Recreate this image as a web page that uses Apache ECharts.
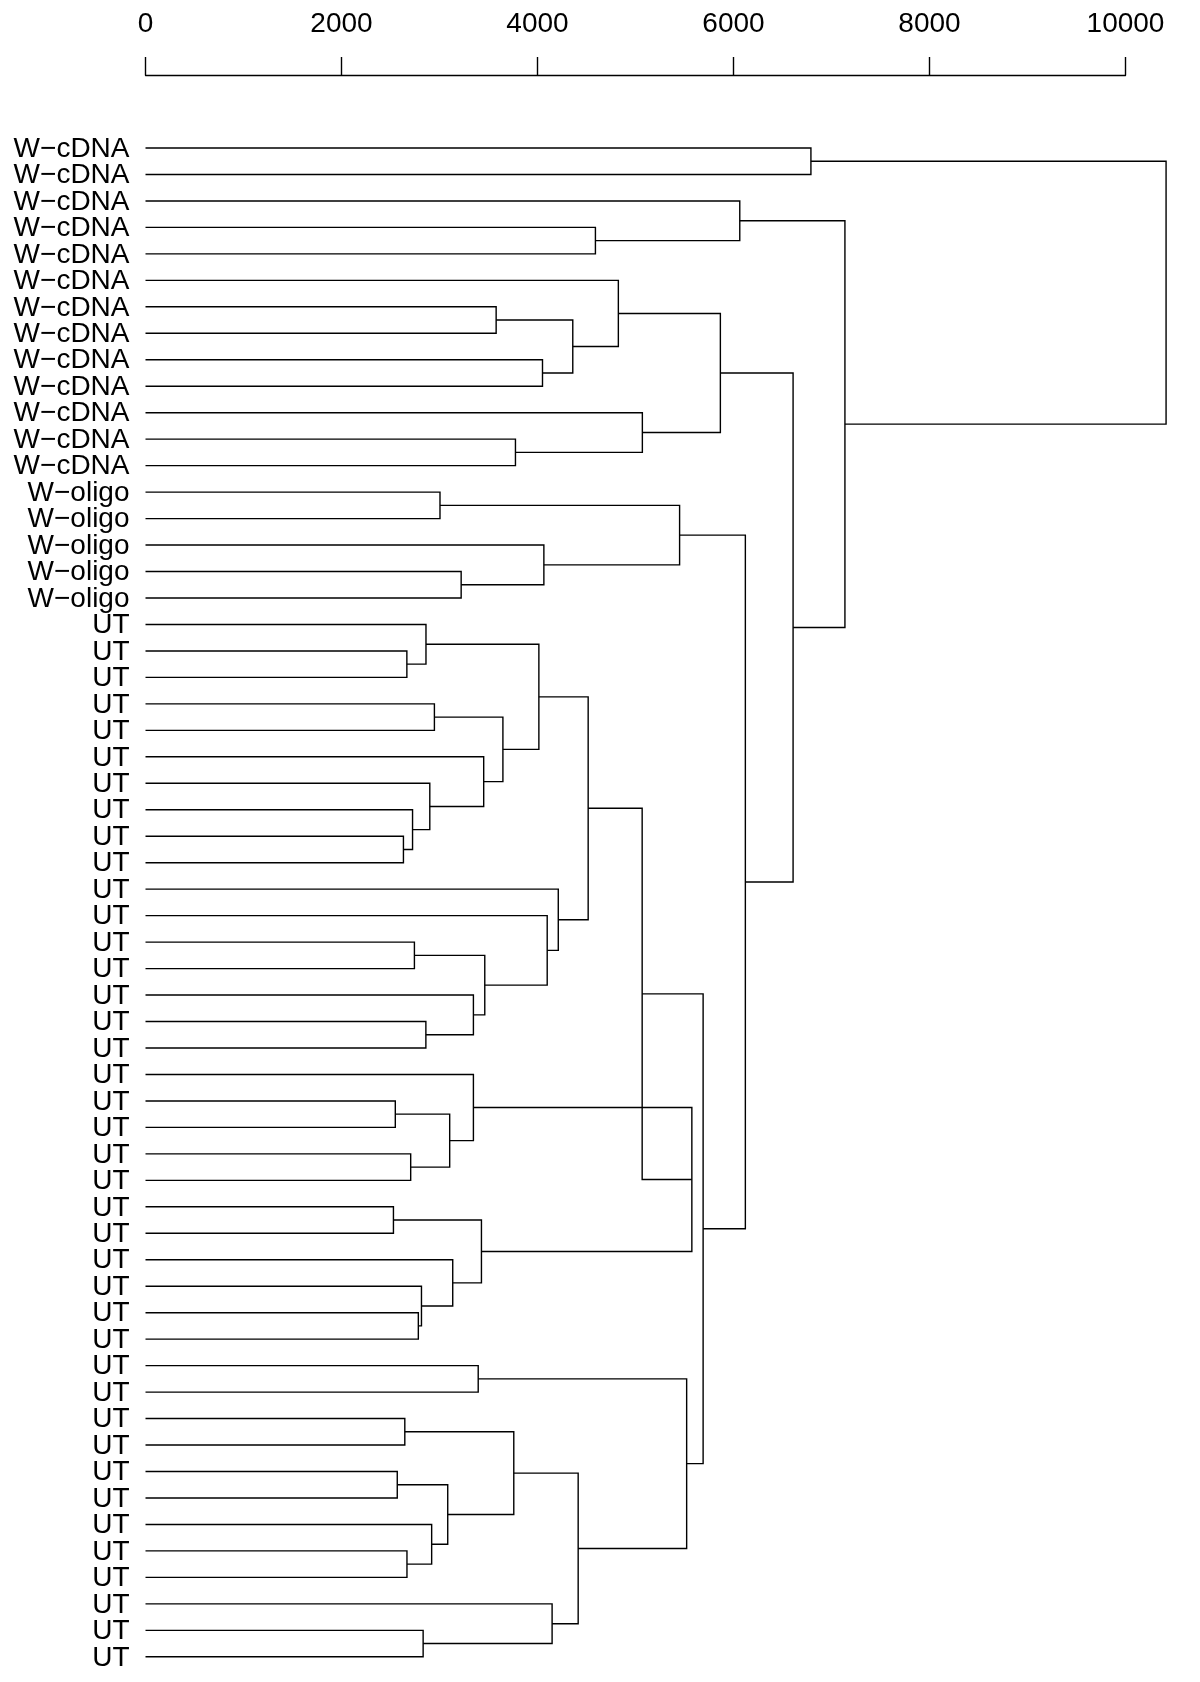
<!DOCTYPE html>
<html><head><meta charset="utf-8">
<script src="https://cdn.jsdelivr.net/npm/echarts@6/dist/echarts.min.js"></script>
<style>html,body{margin:0;padding:0;background:#fff}#c{width:1200px;height:1682px}</style>
</head><body><div id="c"></div>
<script>
// Leaf labels, top to bottom
var leafLabels = [
  "W\u2212cDNA","W\u2212cDNA","W\u2212cDNA","W\u2212cDNA","W\u2212cDNA","W\u2212cDNA","W\u2212cDNA",
  "W\u2212cDNA","W\u2212cDNA","W\u2212cDNA","W\u2212cDNA","W\u2212cDNA","W\u2212cDNA",
  "W\u2212oligo","W\u2212oligo","W\u2212oligo","W\u2212oligo","W\u2212oligo",
  "UT","UT","UT","UT","UT","UT","UT","UT","UT","UT",
  "UT","UT","UT","UT","UT","UT","UT","UT","UT","UT",
  "UT","UT","UT","UT","UT","UT","UT","UT","UT","UT",
  "UT","UT","UT","UT","UT","UT","UT","UT","UT","UT"
];
// Merge table (R hclust style): negative = leaf -(index+1), positive = earlier merge number (1-based)
var mergeLeft  = [-1,-4,-3,-7,-9, 4,-6,-12,-11, 7,-14,-17,-16,11,
                  -20,-19,-22,-27,-26,-25,-24,17,16,-31,-34,-33,24,-30,-29,23,
                  -37,-39,31,-36,-41,-45,-44,-43,35,34,30,
                  -47,-49,-51,-54,-53,44,43,-57,-56,48,42,41,14,10,3,1];
var mergeRight = [-2,-5, 2,-8,-10, 5, 6,-13, 8, 9,-15,-18,12,13,
                  -21,15,-23,-28,18,19,20,21,22,-32,-35,25,26,27,28,29,
                  -38,-40,32,33,-42,-46,36,37,38,39,40,
                  -48,-50,-52,-55,45,46,47,-58,49,50,51,52,53,54,55,56];
var mergeHeight = [6790,4591,6064,3578,4051,4360,4825,3775,5070,5866,3005,3221,4065,5450,
                   2667,2862,2948,2632,2725,2901,3451,3647,4014,2744,2861,3346,3462,4099,4212,4517,
                   2549,2706,3104,3346,2530,2784,2816,3135,3428,5575,5068,
                   3395,2646,2569,2668,2920,3084,3758,2833,4149,4415,5522,5690,6121,6608,7137,10414];
var xTicks = [0, 2000, 4000, 6000, 8000, 10000];

var nodeY = [];
function pos(r){ return r < 0 ? (-r - 1) : nodeY[r - 1]; }
function hgt(r){ return r < 0 ? 0 : mergeHeight[r - 1]; }
var items = [];
for (var k = 0; k < mergeHeight.length; k++) {
  nodeY[k] = (pos(mergeLeft[k]) + pos(mergeRight[k])) / 2;
  items.push([mergeHeight[k], nodeY[k]]);
}
var leafItems = leafLabels.map(function (l, i) { return [0, i]; });

var FONT = '"Liberation Sans", Arial, Helvetica, sans-serif';
var chart = echarts.init(document.getElementById('c'), null, {renderer: 'canvas'});
chart.setOption({
  backgroundColor: '#ffffff',
  animation: false,
  grid: {left: 145.5, right: 74.5, top: 148, bottom: 25.2, containLabel: false, outerBoundsMode: 'none'},
  xAxis: {
    type: 'value', position: 'top', offset: 73,
    min: xTicks[0], max: xTicks[xTicks.length - 1], interval: 2000,
    axisLine: {show: true, onZero: false, lineStyle: {color: '#000', width: 1.4}},
    axisTick: {show: true, length: 18, inside: false, lineStyle: {color: '#000', width: 1.4}},
    axisLabel: {fontSize: 28, color: '#000', margin: 37, fontFamily: FONT,
      showMinLabel: true, showMaxLabel: true,
      formatter: function (v) { return String(v); }},
    splitLine: {show: false}
  },
  yAxis: {
    type: 'value', inverse: true, min: 0, max: leafLabels.length - 1, interval: 1,
    axisLine: {show: false}, axisTick: {show: false}, splitLine: {show: false},
    axisLabel: {show: false}
  },
  series: [{
    type: 'custom',
    clip: false,
    silent: true,
    data: items,
    renderItem: function (params, api) {
      var k = params.dataIndex;
      var a = mergeLeft[k], b = mergeRight[k], h = mergeHeight[k];
      var pts = [
        api.coord([hgt(a), pos(a)]),
        api.coord([h, pos(a)]),
        api.coord([h, pos(b)]),
        api.coord([hgt(b), pos(b)])
      ];
      return {type: 'polyline', shape: {points: pts}, style: {stroke: '#000', lineWidth: 1.4, fill: null}};
    }
  }, {
    type: 'custom',
    clip: false,
    silent: true,
    data: leafItems,
    renderItem: function (params, api) {
      var i = params.dataIndex;
      var p = api.coord([0, i]);
      return {
        type: 'text', x: p[0] - 16, y: p[1] + 1,
        style: {text: leafLabels[i], fill: '#000', fontSize: 28, fontFamily: FONT,
                align: 'right', verticalAlign: 'middle'}
      };
    }
  }]
});
</script>
</body></html>
